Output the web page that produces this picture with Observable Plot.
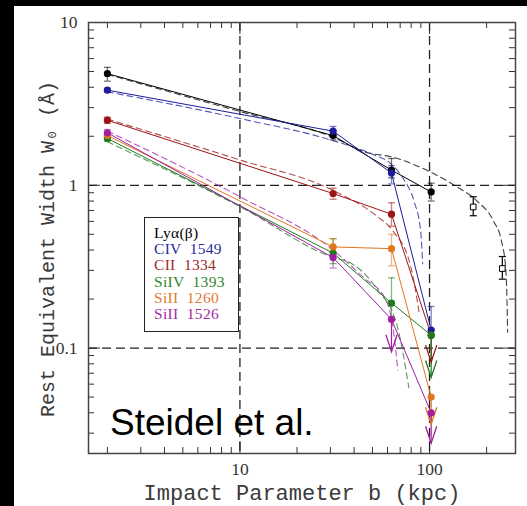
<!DOCTYPE html>
<html>
<head>
<meta charset="utf-8">
<script src="https://cdn.jsdelivr.net/npm/d3@7"></script>
<script src="https://cdn.jsdelivr.net/npm/@observablehq/plot@0.6"></script>
<style>
  html, body { margin: 0; padding: 0; background: #000; width: 527px; height: 506px; overflow: hidden; }
  #panel { position: absolute; left: 14px; top: 6px; width: 513px; height: 500px; background: #fff; }
  #legend { position: absolute; left: 130px; top: 211px; width: 95px; height: 115px; border: 1px solid #222; background: #fff;
            font-family: "Liberation Serif", serif; font-size: 15.5px; line-height: 16.2px; padding: 7px 0 0 9px; box-sizing: border-box; white-space: pre; letter-spacing: 0.3px; }
  #credit { position: absolute; left: 96px; top: 398px; font-family: "Liberation Sans", Arial, sans-serif; font-size: 37px; line-height: 37px; color: #000; white-space: nowrap; }
</style>
</head>
<body>
<div id="panel"></div>
<script>
// ---- data ----
const species = ["Lyα(β)", "CIV 1549", "CII 1334", "SiIV 1393", "SiII 1260", "SiII 1526"];
const colors  = ["#000000", "#1c1c9c", "#9c1414", "#1f7a1f", "#e2761e", "#a01ea0"];
const legendColors = ["#000000", "#2a2aa0", "#a02828", "#2e862e", "#e27a30", "#a02ea0"];

const bObs = [2.0, 31, 63, 102];
const wLya      = [4.85, 2.02, 1.24, 0.91];
const wCIV      = [3.84, 2.15, 1.19, 0.129];
const wCII      = [2.51, 0.89, 0.664, 0.12];
const wSiIV     = [1.94, 0.383, 0.189, 0.12];
const wSiII1260 = [2.02, 0.418, 0.408, 0.05];
const wSiII1526 = [2.10, 0.36, 0.150, 0.04];

const loLya      = [4.36, 1.90, 1.11, 0.80];
const hiLya      = [5.30, 2.15, 1.46, 1.03];
const loCIV      = [3.74, 2.02, 1.02, 0.129];
const hiCIV      = [3.95, 2.30, 1.32, 0.18];
const loCII      = [2.40, 0.82, 0.56, null];
const hiCII      = [2.62, 0.96, 0.78, null];
const loSiIV     = [1.87, 0.33, 0.15, null];
const hiSiIV     = [2.01, 0.47, 0.27, null];
const loSiII1260 = [1.95, 0.37, 0.32, null];
const hiSiII1260 = [2.10, 0.47, 0.50, null];
const loSiII1526 = [2.00, 0.31, null, null];
const hiSiII1526 = [2.20, 0.42, null, null];

// upper limits (arrows)
const limitSpecies = ["SiII 1526", "CII 1334", "SiIV 1393", "SiII 1260", "SiII 1526"];
const limitB       = [63, 102, 102, 102, 102];
const limitFrom    = [0.15, 0.12, 0.12, 0.05, 0.04];
const limitTo      = [0.095, 0.082, 0.066, 0.034, 0.026];

// Lyα at large impact parameter (open squares)
const bWide  = [170, 242];
const wWide  = [0.736, 0.308];
const loWide = [0.65, 0.265];
const hiWide = [0.85, 0.365];

// model curves (dashed)
const modelLyaB  = [2, 10, 31, 45, 65, 105, 135, 178, 218, 240, 252, 256, 258];
const modelLyaW  = [4.8, 2.84, 1.97, 1.61, 1.48, 1.18, 1.0, 0.80, 0.60, 0.45, 0.31, 0.2, 0.125];
const modelCIVB  = [2, 10, 31, 50, 62.4, 73.3, 82.8, 89.8, 92];
const modelCIVW  = [3.75, 2.57, 1.88, 1.55, 1.36, 1.08, 0.80, 0.52, 0.33];
const modelCIIB  = [2, 10, 31, 53, 63.6, 79.4, 88.5];
const modelCIIW  = [2.55, 1.43, 0.93, 0.643, 0.53, 0.32, 0.16];
const modelSiIVB = [2, 10, 31, 38.4, 53, 67.6, 77.8];
const modelSiIVW = [1.85, 0.74, 0.36, 0.333, 0.229, 0.136, 0.057];
const modelSiII1526B = [2, 10, 31, 45, 58.6, 65, 68];
const modelSiII1526W = [2.15, 0.85, 0.40, 0.27, 0.20, 0.12, 0.073];

// axes
const xMinorTicks = [2,3,4,5,6,7,8,9,20,30,40,50,60,70,80,90,200];
const xMajorTicks = [10, 100];
const yMinorTicks = [0.03,0.04,0.05,0.06,0.07,0.08,0.09,0.2,0.3,0.4,0.5,0.6,0.7,0.8,0.9,2,3,4,5,6,7,8,9];
const yMajorTicks = [0.1, 1, 10];
const xLabel = "Impact Parameter b (kpc)";
const yLabel = "Rest Equivalent Width W₀ (Å)";
const credit = "Steidel et al.";

// ---- build tables ----
const obsW = [wLya, wCIV, wCII, wSiIV, wSiII1260, wSiII1526];
const obsLo = [loLya, loCIV, loCII, loSiIV, loSiII1260, loSiII1526];
const obsHi = [hiLya, hiCIV, hiCII, hiSiIV, hiSiII1260, hiSiII1526];
const points = [], errs = [];
species.forEach((s, i) => {
  bObs.forEach((b, j) => {
    points.push({s, b, w: obsW[i][j]});
    if (obsLo[i][j] != null && obsHi[i][j] != null) errs.push({s, b, lo: obsLo[i][j], hi: obsHi[i][j]});
  });
});
const caps = errs.flatMap(d => [{s: d.s, b: d.b, w: d.lo}, {s: d.s, b: d.b, w: d.hi}]);
const limits = limitSpecies.map((s, i) => ({s, b: limitB[i], from: limitFrom[i], to: limitTo[i]}));
const wide = bWide.map((b, i) => ({b, w: wWide[i], lo: loWide[i], hi: hiWide[i]}));
const wideCaps = wide.flatMap(d => [{b: d.b, w: d.lo}, {b: d.b, w: d.hi}]);
const models = [];
[[species[0], modelLyaB, modelLyaW], [species[1], modelCIVB, modelCIVW], [species[2], modelCIIB, modelCIIW],
 [species[3], modelSiIVB, modelSiIVW], [species[5], modelSiII1526B, modelSiII1526W]].forEach(([s, B, W]) => {
  B.forEach((b, j) => models.push({s, b, w: W[j]}));
});

const capSymbol = { draw(ctx, size) { const r = Math.sqrt(size / Math.PI); ctx.moveTo(-r, 0); ctx.lineTo(r, 0); } };
const vSymbol = { draw(ctx, size) { const r = Math.sqrt(size / Math.PI); ctx.moveTo(-0.33 * r, -r); ctx.lineTo(0, 0); ctx.lineTo(0.33 * r, -r); } };

const W = 513, H = 500, mL = 74, mR = 12, mT = 16, mB = 53;
const iw = W - mL - mR, ih = H - mT - mB;

const chart = Plot.plot({
  width: W, height: H,
  marginLeft: mL, marginRight: mR, marginTop: mT, marginBottom: mB,
  style: {background: "white", overflow: "visible"},
  x: {type: "log", domain: [1.59, 284]},
  y: {type: "log", domain: [0.0225, 10]},
  color: {domain: species, range: colors},
  marks: [
    // inward ticks
    Plot.tickX(xMinorTicks, {x: d => d, insetTop: ih - 6, stroke: "#333"}),
    Plot.tickX(xMinorTicks, {x: d => d, insetBottom: ih - 6, stroke: "#333"}),
    Plot.tickX(xMajorTicks, {x: d => d, insetTop: ih - 12, stroke: "#333"}),
    Plot.tickX(xMajorTicks, {x: d => d, insetBottom: ih - 12, stroke: "#333"}),
    Plot.tickY(yMinorTicks, {y: d => d, insetRight: iw - 6, stroke: "#333"}),
    Plot.tickY(yMinorTicks, {y: d => d, insetLeft: iw - 6, stroke: "#333"}),
    Plot.tickY(yMajorTicks, {y: d => d, insetRight: iw - 12, stroke: "#333"}),
    Plot.tickY(yMajorTicks, {y: d => d, insetLeft: iw - 12, stroke: "#333"}),
    // dashed reference lines
    Plot.ruleX(xMajorTicks, {x: d => d, stroke: "#222", strokeWidth: 1.3, strokeDasharray: "9,5"}),
    Plot.ruleY(yMajorTicks.slice(0, 2), {y: d => d, stroke: "#222", strokeWidth: 1.3, strokeDasharray: "9,5"}),
    // model curves
    Plot.line(models, {x: "b", y: "w", z: "s", stroke: "s", strokeWidth: 1.1, strokeOpacity: 0.75, strokeDasharray: "6,4", curve: "monotone-x"}),
    // error bars
    Plot.ruleX(errs, {x: "b", y1: "lo", y2: "hi", stroke: "s", strokeOpacity: 0.55, strokeWidth: 1.3}),
    Plot.dot(caps, {x: "b", y: "w", stroke: "s", strokeOpacity: 0.55, strokeWidth: 1.3, symbol: capSymbol, r: 3.5}),
    Plot.ruleX(wide, {x: "b", y1: "lo", y2: "hi", stroke: "#000", strokeWidth: 1.2}),
    Plot.dot(wideCaps, {x: "b", y: "w", stroke: "#000", strokeWidth: 1.2, symbol: capSymbol, r: 3.5}),
    // observed lines
    Plot.line(points, {x: "b", y: "w", z: "s", stroke: "s", strokeWidth: 1}),
    // upper limits
    Plot.ruleX(limits, {x: "b", y1: "from", y2: "to", stroke: "s", strokeWidth: 1.2}),
    Plot.dot(limits, {x: "b", y: "to", stroke: "s", fill: "none", strokeWidth: 1.3, symbol: vSymbol, r: 17}),
    Plot.dot(points, {x: "b", y: "w", fill: "s", r: 3.6}),
    Plot.dot(wide, {x: "b", y: "w", symbol: "square", r: 3.2, fill: "white", stroke: "#000", strokeWidth: 1}),
    Plot.frame({stroke: "#444", strokeWidth: 1.5}),
    // axes
    Plot.axisX({ticks: xMajorTicks, tickSize: 0, tickPadding: 9, tickFormat: d => String(d), fontSize: 17.5, fontFamily: "Liberation Serif", fill: "#333", label: null}),
    Plot.axisY({ticks: yMajorTicks, tickSize: 0, tickPadding: 11, tickFormat: d => String(d), fontSize: 17.5, fontFamily: "Liberation Serif", fill: "#333", label: null}),
    Plot.text([xLabel], {text: d => d, frameAnchor: "bottom", textAnchor: "middle", lineAnchor: "middle", dy: 39, fontSize: 22, fontFamily: "Liberation Mono", fill: "#3a3a3a"}),
    Plot.text([yLabel], {text: d => d, frameAnchor: "left", textAnchor: "middle", lineAnchor: "middle", rotate: -90, dx: -41, dy: 11, fontSize: 20, fontFamily: "Liberation Mono", fill: "#3a3a3a"})
  ]
});
const panel = document.getElementById("panel");
panel.appendChild(chart);

const legend = document.createElement("div");
legend.id = "legend";
legend.innerHTML = species.map((s, i) => `<div style="color:${legendColors[i]}">${s.replace(" ", "  ")}</div>`).join("");
panel.appendChild(legend);

const cr = document.createElement("div");
cr.id = "credit";
cr.textContent = credit;
panel.appendChild(cr);
</script>
</body>
</html>
